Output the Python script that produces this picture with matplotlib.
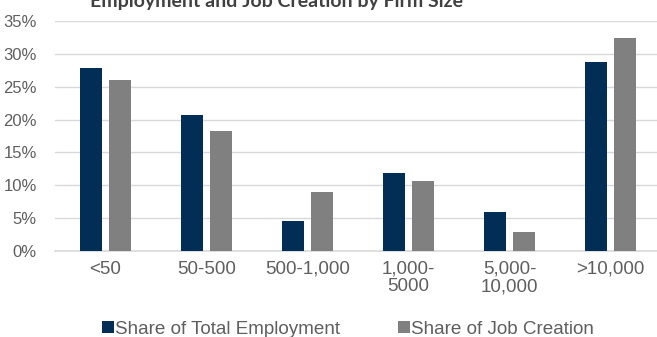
import matplotlib
matplotlib.use("Agg")
import matplotlib.pyplot as plt
import numpy as np
from matplotlib.ticker import FuncFormatter, MultipleLocator

categories = ["<50", "50-500", "500-1,000", "1,000-\n5000", "5,000-\n10,000", ">10,000"]
employment = [27.8, 20.7, 4.6, 11.9, 5.9, 28.8]
job_creation = [26.0, 18.3, 9.0, 10.7, 2.9, 32.4]
series_names = ["Share of Total Employment", "Share of Job Creation"]
title = "Employment and Job Creation by Firm Size"

navy = "#022d54"
gray = "#808080"
txt = "#5f5f5f"

fig = plt.figure(figsize=(6.57, 3.37), dpi=100)
ax = fig.add_axes([55/657, 86/337, 606/657, 230/337])

x = np.arange(len(categories))
w = 0.218
off = 0.144
ax.bar(x - off, employment, w, color=navy, label=series_names[0], zorder=3)
ax.bar(x + off, job_creation, w, color=gray, label=series_names[1], zorder=3)

ax.set_xlim(-0.5, len(categories) - 0.5)
ax.set_ylim(0, 35)
ax.yaxis.set_major_locator(MultipleLocator(5))
ax.yaxis.set_major_formatter(FuncFormatter(lambda v, p: f"{v:.0f}%"))
ax.grid(axis="y", color="#d9d9d9", linewidth=1.0, zorder=0)
for s in ["top", "right", "left"]:
    ax.spines[s].set_visible(False)
ax.spines["bottom"].set_color("#d9d9d9")
ax.spines["bottom"].set_linewidth(1.2)
ax.set_xticks(x)
ax.set_xticklabels(categories, linespacing=1.05)
font = "Liberation Sans"
ax.tick_params(axis="y", length=0, labelsize=12, labelcolor=txt, pad=13)
ax.tick_params(axis="x", length=0, labelsize=13.5, labelcolor=txt, pad=7)
for lab in ax.get_xticklabels() + ax.get_yticklabels():
    lab.set_fontfamily(font)

fig.text(276/657, 1 - 7/337, title, ha="center", va="baseline",
         fontsize=14, fontweight="bold", color="#404040", family="Lato")

leg = fig.legend(loc="center", bbox_to_anchor=(348/657, 1 - 329/337), ncol=2,
                 frameon=False, handlelength=0.6, handleheight=0.6,
                 handletextpad=0.06, columnspacing=3.1, borderpad=0,
                 prop={"family": font, "size": 13.6})
for t in leg.get_texts():
    t.set_color(txt)

fig.savefig("out.png", dpi=100)
